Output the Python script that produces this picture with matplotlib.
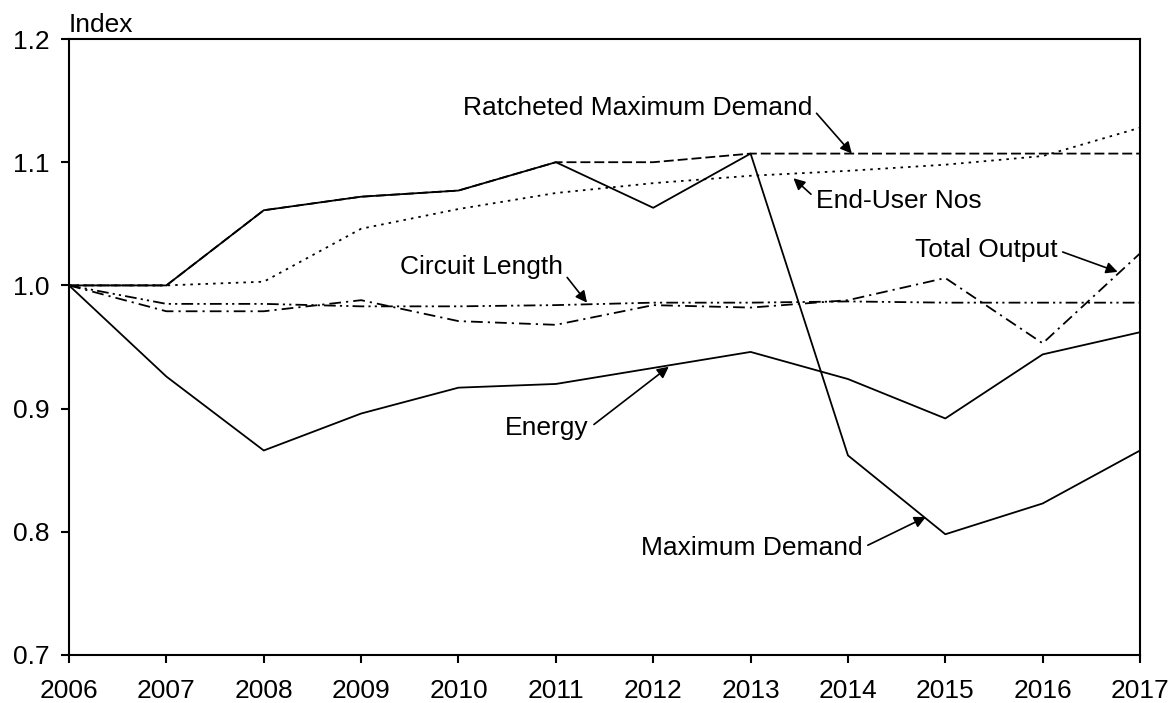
import matplotlib
matplotlib.use('Agg')
import matplotlib.pyplot as plt

years = [2006, 2007, 2008, 2009, 2010, 2011, 2012, 2013, 2014, 2015, 2016, 2017]

max_demand = [1.0, 1.0, 1.061, 1.072, 1.077, 1.100, 1.063, 1.107, 0.862, 0.798, 0.823, 0.866]
ratcheted_md = [1.0, 1.0, 1.061, 1.072, 1.077, 1.100, 1.100, 1.107, 1.107, 1.107, 1.107, 1.107]
end_user_nos = [1.0, 1.0, 1.003, 1.046, 1.062, 1.075, 1.083, 1.089, 1.093, 1.098, 1.105, 1.128]
circuit_length = [1.0, 0.985, 0.985, 0.983, 0.983, 0.984, 0.986, 0.986, 0.987, 0.986, 0.986, 0.986]
total_output = [1.0, 0.979, 0.979, 0.988, 0.971, 0.968, 0.984, 0.982, 0.988, 1.006, 0.953, 1.026]
energy = [1.0, 0.926, 0.866, 0.896, 0.917, 0.920, 0.933, 0.946, 0.924, 0.892, 0.944, 0.962]

y_ticks = [0.7, 0.8, 0.9, 1.0, 1.1, 1.2]

plt.rcParams['font.family'] = ['Liberation Sans', 'DejaVu Sans']
plt.rcParams['font.size'] = 19

fig = plt.figure(figsize=(11.7, 7.03), dpi=100)
ax = fig.add_axes([0.059, 0.0683, 0.9154, 0.8762])

lw = 1.3
ax.plot(years, ratcheted_md, color='black', lw=lw, dashes=(5.5, 2.2))
ax.plot(years, end_user_nos, color='black', lw=lw, dashes=(1.4, 2.8))
ax.plot(years, circuit_length, color='black', lw=lw, dashes=(6.5, 2.3, 1.2, 2.3, 1.2, 2.3))
ax.plot(years, total_output, color='black', lw=lw, dashes=(6.5, 2.8, 1.2, 2.8))
ax.plot(years, max_demand, color='black', lw=lw)
ax.plot(years, energy, color='black', lw=lw)

ax.set_xlim(2006, 2017)
ax.set_ylim(0.7, 1.2)
ax.set_xticks(years)
ax.set_yticks(y_ticks)
ax.set_yticklabels(['%.1f' % v for v in y_ticks])
ax.tick_params(axis='x', direction='out', length=6, width=1.5, pad=11)
ax.tick_params(axis='y', direction='out', length=6, width=1.5, pad=8)
for s in ax.spines.values():
    s.set_linewidth(1.5)

ax.text(0, 1.003, 'Index', transform=ax.transAxes, ha='left', va='bottom')


def label(txt, tip, pos, ha, relpos):
    ax.annotate(txt, xy=tip, xytext=pos, ha=ha, va='center',
                arrowprops=dict(arrowstyle='-|>', color='black', lw=1.2,
                                mutation_scale=17, shrinkA=2, shrinkB=0,
                                relpos=relpos))


label('Ratcheted Maximum Demand', (2014.04, 1.107), (2013.63, 1.144), 'right', (1, 0.5))
label('End-User Nos', (2013.44, 1.087), (2013.67, 1.0685), 'left', (0, 0.6))
label('Total Output', (2016.77, 1.011), (2016.15, 1.0287), 'right', (1, 0.5))
label('Circuit Length', (2011.32, 0.986), (2011.07, 1.015), 'right', (1, 0.3))
label('Energy', (2012.16, 0.934), (2011.34, 0.884), 'right', (1, 0.5))
label('Maximum Demand', (2014.80, 0.812), (2014.15, 0.787), 'right', (1, 0.5))

plt.savefig('out.png', dpi=100)
